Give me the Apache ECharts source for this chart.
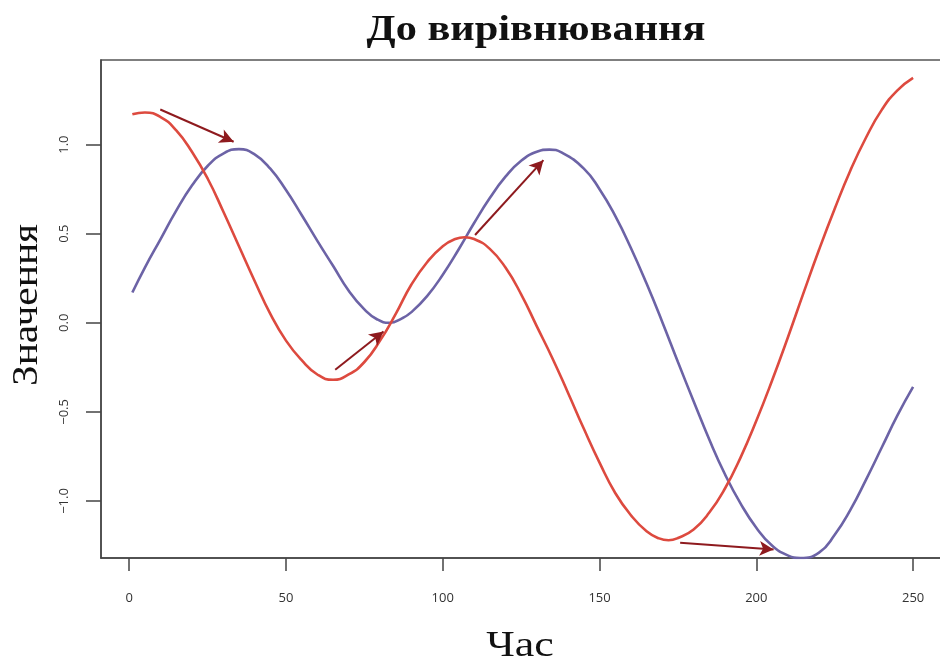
<!DOCTYPE html>
<html>
<head>
<meta charset="utf-8">
<script src="https://cdn.jsdelivr.net/npm/echarts@6/dist/echarts.min.js"></script>
<style>html,body{margin:0;padding:0;background:#fff}#c{width:940px;height:662px}</style>
</head>
<body>
<div id="c"></div>
<script>
var titleText = 'До вирівнювання';
var xName = 'Час';
var yName = 'Значення';
var redTime = [1,5,10,15,20,25,30,35,40,45,50,55,60,65,70,75,80,85,90,95,100,104,107,110,115,120,125,130,135,140,145,150,155,160,165,169,172,175,180,185,190,195,200,205,210,215,220,225,230,235,240,245,250];
var redSeries = [1.17,1.18,1.155,1.08,0.96,0.81,0.625,0.43,0.235,0.05,-0.10,-0.21,-0.29,-0.32,-0.29,-0.22,-0.10,0.05,0.215,0.34,0.43,0.47,0.48,0.47,0.415,0.31,0.16,-0.02,-0.20,-0.395,-0.595,-0.785,-0.955,-1.08,-1.17,-1.21,-1.22,-1.208,-1.16,-1.065,-0.93,-0.755,-0.55,-0.325,-0.085,0.165,0.41,0.64,0.855,1.04,1.195,1.305,1.375];
var blueTime = [1,5,10,15,20,25,30,35,40,45,50,55,60,65,70,75,79,83,87,90,95,100,105,110,115,120,125,130,134,138,145,150,155,160,165,170,175,180,185,190,195,200,205,210,214,220,225,230,235,240,245,250];
var blueSeries = [0.17,0.31,0.47,0.63,0.77,0.88,0.95,0.975,0.945,0.865,0.745,0.605,0.46,0.32,0.18,0.075,0.02,0.0,0.025,0.06,0.15,0.27,0.41,0.56,0.70,0.82,0.91,0.96,0.972,0.955,0.865,0.75,0.60,0.42,0.22,0.005,-0.22,-0.44,-0.655,-0.85,-1.015,-1.15,-1.25,-1.305,-1.32,-1.29,-1.19,-1.05,-0.88,-0.70,-0.52,-0.36];
var xTicks = [0,50,100,150,200,250];
var yTicks = [-1,-0.5,0,0.5,1];
var yTickLabels = {'-1':'\u22121.0','-0.5':'\u22120.5','0':'0.0','0.5':'0.5','1':'1.0'};
// arrows: [fromTime, fromValue, toTime, toValue]
var arrows = [
  [9.9, 1.197, 33.3, 1.016],
  [65.7, -0.263, 81.1, -0.049],
  [110.3, 0.493, 132.1, 0.913],
  [175.7, -1.234, 205.5, -1.272]
];

function pairs(xs, ys){ return xs.map(function(x,i){ return [x, ys[i]]; }); }

var serif = 'Liberation Serif';
var chart = echarts.init(document.getElementById('c'), null, {renderer:'canvas'});
chart.setOption({
  animation: false,
  backgroundColor: '#ffffff',
  graphic: [
    {type: 'text', x: 536, y: 31, scaleX: 1.16, z: 10,
      style: {text: titleText, fontFamily: serif, fontWeight: 'bold', fontSize: 36.5, fill: '#111', align: 'center', verticalAlign: 'middle'}},
    {type: 'text', x: 520, y: 647, scaleX: 1.22, z: 10,
      style: {text: xName, fontFamily: serif, fontSize: 36, fill: '#111', align: 'center', verticalAlign: 'middle'}},
    {type: 'text', x: 28, y: 305, rotation: Math.PI/2, scaleX: 1.15, z: 10,
      style: {text: yName, fontFamily: serif, fontSize: 36, fill: '#111', align: 'center', verticalAlign: 'middle'}}
  ],
  grid: {left: 101, top: 60, width: 840, height: 498, show: true, borderColor: '#555', borderWidth: 1.5,
    backgroundColor: 'transparent', outerBoundsMode: 'none', containLabel: false},
  xAxis: {
    type: 'value', min: -9, max: 258.9,
    axisLine: {show: true, onZero: false, lineStyle: {color: '#444', width: 1.5}},
    axisTick: {show: true, length: 13, lineStyle: {color: '#444', width: 1.5}, customValues: xTicks},
    axisLabel: {show: true, margin: 34, fontFamily: 'Open Sans', fontSize: 13, color: '#333', customValues: xTicks},
    splitLine: {show: false}
  },
  yAxis: {
    type: 'value', min: -1.32, max: 1.475,
    axisLine: {show: true, onZero: false, lineStyle: {color: '#444', width: 1.5}},
    axisTick: {show: true, length: 15, lineStyle: {color: '#444', width: 1.5}, customValues: yTicks},
    axisLabel: {show: true, rotate: 90, margin: 30, fontFamily: 'Open Sans', fontSize: 13, color: '#333', customValues: yTicks,
      formatter: function(v){ var k = String(Math.round(v*10)/10); return yTickLabels[k] !== undefined ? yTickLabels[k] : ''; }},
    splitLine: {show: false}
  },
  series: [
    {type: 'line', data: pairs(blueTime, blueSeries), smooth: 0.5, showSymbol: false,
      lineStyle: {color: '#6c63a6', width: 2.6}, clip: true, z: 2},
    {type: 'line', data: pairs(redTime, redSeries), smooth: 0.5, showSymbol: false,
      lineStyle: {color: '#dd4a3f', width: 2.6}, clip: true, z: 3,
      markLine: {
        silent: true, symbol: ['none', 'arrow'], symbolSize: [11, 14],
        label: {show: false},
        lineStyle: {color: '#8e1a1e', width: 2, type: 'solid'},
        emphasis: {disabled: true},
        data: arrows.map(function(a){ return [{coord: [a[0], a[1]]}, {coord: [a[2], a[3]]}]; })
      }}
  ]
});
</script>
</body>
</html>
